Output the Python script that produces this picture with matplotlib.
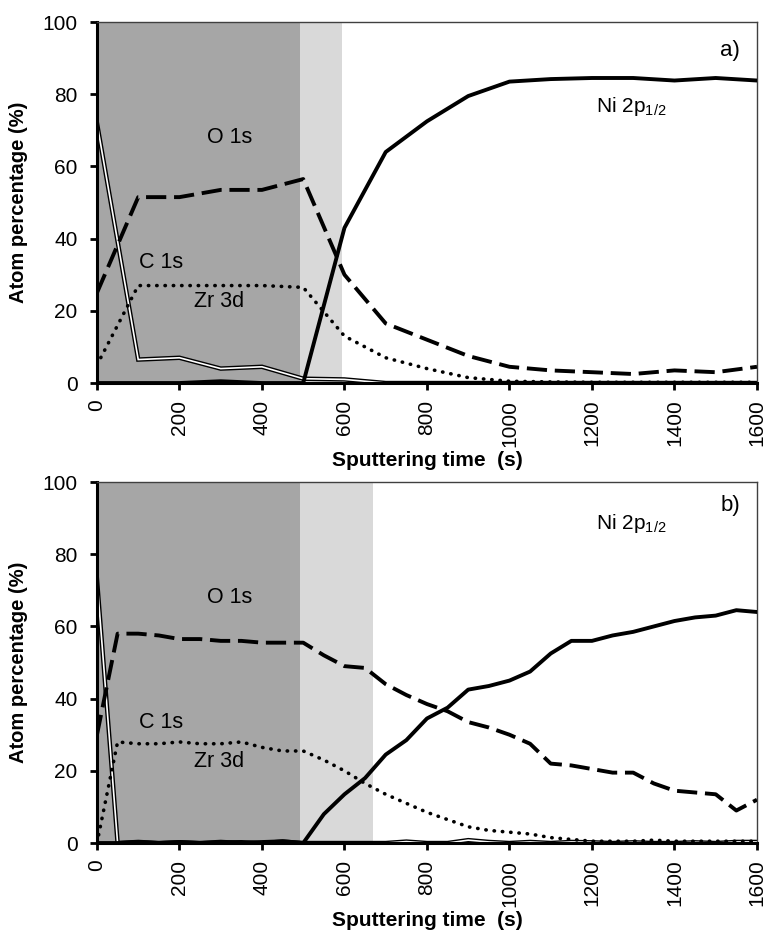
import numpy as np
import matplotlib.pyplot as plt

plt.rcParams['font.family'] = ['Liberation Sans', 'DejaVu Sans']

# ---- panel a) data, step 100 s ----
t_a = [0, 100, 200, 300, 400, 500, 600, 700, 800, 900, 1000, 1100, 1200, 1300, 1400, 1500, 1600]
ni_a = [0, 0, 0, 0.5, 0, 0, 43, 64, 72.5, 79.5, 83.5, 84.2, 84.5, 84.5, 83.8, 84.5, 83.8]
o_a = [25, 51.5, 51.5, 53.5, 53.5, 56.5, 30, 16.5, 12, 7.5, 4.5, 3.5, 3, 2.5, 3.5, 3, 4.5]
zr_a = [5, 27, 27, 27, 27, 26.5, 13, 7, 4, 1.5, 0.5, 0.3, 0.2, 0.2, 0.2, 0.2, 0.2]
c_a = [72, 6.5, 7, 4, 4.5, 1.2, 1, 0, 0, 0, 0, 0, 0, 0, 0, 0, 0]

# ---- panel b) data, step 50 s ----
t_b = list(range(0, 1601, 50))
ni_b = [0, 0, 0.3, 0, 0.3, 0, 0.2, 0.3, 0, 0.5, 0,
        8, 13.5, 18, 24.5, 28.5, 34.5, 37.5, 42.5, 43.5, 45, 47.5,
        52.5, 56, 56, 57.5, 58.5, 60, 61.5, 62.5, 63, 64.5, 64]
o_b = [30, 58, 58, 57.5, 56.5, 56.5, 56, 56, 55.5, 55.5, 55.5,
       52, 49, 48.5, 44, 41, 38.5, 36.5, 33.5, 32, 30, 27.5,
       22, 21.5, 20.5, 19.5, 19.5, 16.5, 14.5, 14, 13.5, 9, 12]
zr_b = [0, 28, 27.5, 27.5, 28, 27.5, 27.5, 28, 26.5, 25.5, 25.5,
        23, 20, 16.5, 13.5, 11, 8.5, 6.5, 4.5, 3.5, 3, 2.5,
        1.5, 1, 0.5, 0.5, 0.5, 0.8, 0.5, 0.5, 0.5, 0.5, 0.5]
c_b = [73, 0, 0.3, 0, 0.2, 0, 0.3, 0, 0.2, 0.4, 0,
       0, 0, 0, 0, 0.4, 0, 0, 0.8, 0.3, 0, 0.3,
       0, 0.3, 0.2, 0, 0.2, 0, 0, 0.2, 0, 0.3, 0.3]

panels = [
    dict(t=t_a, ni=ni_a, o=o_a, zr=zr_a, c=c_a, light_end=593, tag='a)', tag_y=92.2, ni_y=76.5),
    dict(t=t_b, ni=ni_b, o=o_b, zr=zr_b, c=c_b, light_end=670, tag='b)', tag_y=93.6, ni_y=88.6),
]

fig = plt.figure(figsize=(7.66, 9.34), dpi=100)
rects = [[0.1266, 0.5899, 0.8616, 0.3865], [0.1266, 0.0974, 0.8616, 0.3865]]

for rect, p in zip(rects, panels):
    ax = fig.add_axes(rect)
    ax.axvspan(0, 491, color='#a6a6a6', lw=0, zorder=0)
    ax.axvspan(491, p['light_end'], color='#d9d9d9', lw=0, zorder=0)

    # C 1s drawn as a double line
    ax.plot(p['t'], p['c'], color='black', lw=3.2, zorder=2, solid_joinstyle='miter')
    ax.plot(p['t'], p['c'], color='white', lw=1.2, zorder=2.1, solid_joinstyle='miter')
    ax.plot(p['t'], p['zr'], color='black', lw=2.6, ls=(0, (0.1, 2.2)),
            dash_capstyle='round', zorder=3)
    ax.plot(p['t'], p['o'], color='black', lw=2.8, ls=(0, (5.2, 2.0)), zorder=3)
    ax.plot(p['t'], p['ni'], color='black', lw=2.8, zorder=4)

    ax.set_xlim(0, 1600)
    ax.set_ylim(0, 100)
    ax.set_xticks(range(0, 1601, 200))
    ax.set_yticks(range(0, 101, 20))
    ax.tick_params(axis='x', labelrotation=90, labelsize=15, direction='out',
                   length=5, width=2, pad=7)
    ax.tick_params(axis='y', labelsize=15, direction='out', length=5, width=2, pad=9)
    ax.spines['left'].set_linewidth(2.2)
    ax.spines['bottom'].set_linewidth(2.2)
    for s in ['top', 'right']:
        ax.spines[s].set_linewidth(1)
        ax.spines[s].set_color('#404040')

    ax.set_ylabel('Atom percentage (%)', fontsize=14.5, fontweight='bold')
    ax.set_xlabel('Sputtering time  (s)', fontsize=15, fontweight='bold', labelpad=3)
    ax.yaxis.set_label_coords(-0.105, 0.5)

    ax.text(1559, p['tag_y'], p['tag'], fontsize=16, ha='right', va='center')
    ax.text(1210, p['ni_y'], 'Ni 2p$_{\\mathregular{1/2}}$', fontsize=15, va='center')
    ax.text(322, 68, 'O 1s', fontsize=15.5, ha='center', va='center')
    ax.text(155, 33.5, 'C 1s', fontsize=15.5, ha='center', va='center')
    ax.text(296, 22.7, 'Zr 3d', fontsize=15.5, ha='center', va='center')

fig.savefig('out.png', dpi=100)
